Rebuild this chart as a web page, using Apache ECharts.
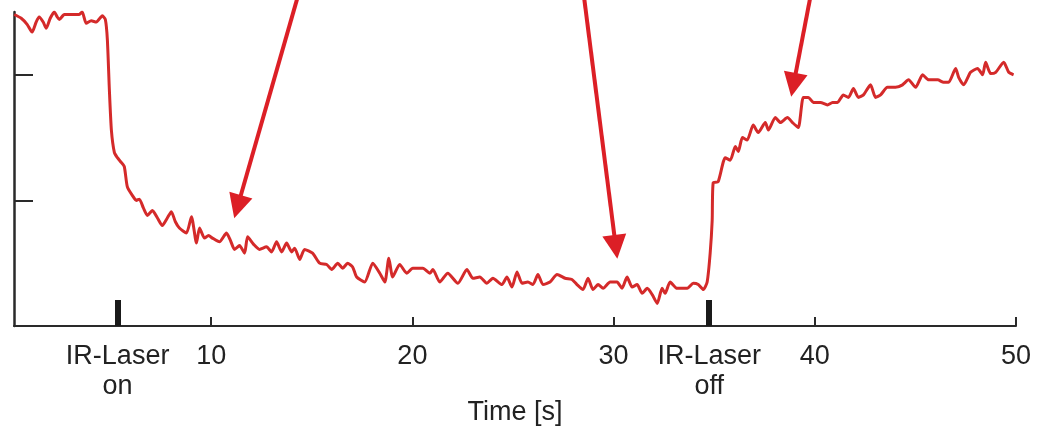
<!DOCTYPE html>
<html>
<head>
<meta charset="utf-8">
<script src="https://cdn.jsdelivr.net/npm/echarts@6/dist/echarts.min.js"></script>
<style>
html,body{margin:0;padding:0;background:#fff;}
#chart{width:1038px;height:433px;}
</style>
</head>
<body>
<div id="chart"></div>
<script>
// Signal trace: [time (s), relative signal]
const trace = [
[0.21,2.48],[0.56,2.45],[0.86,2.40],[1.10,2.34],[1.30,2.42],[1.45,2.46],[1.65,2.42],[1.80,2.37],[2.00,2.45],[2.20,2.50],
[2.35,2.46],[2.45,2.44],[2.70,2.48],[3.05,2.48],[3.44,2.48],[3.59,2.50],[3.79,2.41],[4.04,2.43],[4.29,2.42],[4.59,2.47],
[4.74,2.44],[4.84,2.28],[4.94,1.88],[5.04,1.56],[5.19,1.38],[5.34,1.34],[5.49,1.31],[5.68,1.27],[5.83,1.11],[6.08,1.04],
[6.28,1.00],[6.43,1.01],[6.63,0.94],[6.83,0.88],[7.08,0.92],[7.33,0.86],[7.57,0.80],[7.82,0.86],[8.02,0.91],[8.22,0.83],
[8.42,0.78],[8.77,0.74],[9.02,0.87],[9.27,0.66],[9.42,0.78],[9.67,0.70],[9.87,0.72],[10.06,0.70],[10.41,0.67],[10.76,0.74],
[10.96,0.68],[11.16,0.61],[11.41,0.64],[11.66,0.58],[11.81,0.71],[12.11,0.65],[12.40,0.61],[12.75,0.63],[13.00,0.59],[13.25,0.67],
[13.50,0.59],[13.75,0.66],[14.00,0.59],[14.15,0.62],[14.40,0.53],[14.64,0.61],[15.04,0.58],[15.39,0.50],[15.74,0.49],[15.99,0.45],
[16.29,0.50],[16.54,0.46],[16.78,0.50],[17.03,0.47],[17.23,0.39],[17.63,0.35],[18.03,0.50],[18.38,0.42],[18.63,0.35],[18.83,0.54],
[19.02,0.39],[19.37,0.49],[19.72,0.42],[20.02,0.46],[20.52,0.46],[20.87,0.42],[21.02,0.45],[21.36,0.35],[21.76,0.42],[22.26,0.34],
[22.71,0.45],[23.01,0.38],[23.35,0.39],[23.70,0.34],[24.00,0.38],[24.45,0.33],[24.70,0.39],[24.95,0.31],[25.20,0.43],[25.45,0.34],
[25.74,0.35],[25.99,0.33],[26.24,0.41],[26.49,0.33],[26.84,0.35],[27.19,0.41],[27.59,0.38],[27.93,0.37],[28.18,0.33],[28.48,0.29],
[28.73,0.38],[28.98,0.29],[29.23,0.33],[29.48,0.30],[29.83,0.35],[30.17,0.35],[30.42,0.30],[30.67,0.39],[30.92,0.31],[31.17,0.33],
[31.42,0.26],[31.67,0.30],[31.92,0.25],[32.17,0.18],[32.41,0.30],[32.56,0.26],[32.81,0.35],[33.16,0.30],[33.66,0.30],[33.96,0.34],
[34.21,0.33],[34.46,0.29],[34.65,0.35],[34.80,0.58],[34.90,0.84],[34.95,1.14],[35.20,1.15],[35.55,1.34],[35.80,1.32],[36.05,1.43],
[36.20,1.39],[36.40,1.50],[36.64,1.48],[36.94,1.60],[37.19,1.54],[37.54,1.62],[37.69,1.56],[38.04,1.66],[38.29,1.62],[38.64,1.66],
[38.89,1.62],[39.18,1.58],[39.43,1.82],[39.68,1.82],[39.93,1.78],[40.28,1.78],[40.63,1.76],[40.88,1.78],[41.13,1.78],[41.42,1.84],
[41.67,1.82],[41.92,1.89],[42.17,1.82],[42.42,1.84],[42.77,1.92],[43.02,1.82],[43.27,1.84],[43.61,1.90],[44.01,1.90],[44.36,1.92],
[44.66,1.96],[45.01,1.90],[45.36,2.00],[45.66,1.96],[46.11,1.96],[46.40,1.94],[46.65,1.94],[47.00,2.05],[47.15,1.98],[47.40,1.92],
[47.74,2.02],[48.09,2.05],[48.34,2.00],[48.49,2.10],[48.74,2.01],[48.99,2.02],[49.39,2.10],[49.64,2.02],[49.88,2.00]
];

const timeTicks = [10, 20, 30, 40, 50];
const laserTimes = [5.35, 34.75];
const laserLabels = ['IR-Laser\non', 'IR-Laser\noff'];
const yTicks = [1, 2];
// Annotation arrows: start (above plot) and arrow-head centre, in data units
const arrowFrom = [[14.30, 2.62], [28.53, 2.62], [39.78, 2.62]];
const arrowTo = [[11.31, 0.95], [30.11, 0.63], [38.94, 1.92]];

const FONT = 'Liberation Sans';
const chart = echarts.init(document.getElementById('chart'), null, {renderer: 'canvas'});
const labelStyle = {fontFamily: FONT, fontSize: 27, color: '#222', lineHeight: 30, margin: 16};

chart.setOption({
  animation: false,
  backgroundColor: '#fff',
  grid: {left: 14, right: 22, top: 12, bottom: 107, containLabel: false},
  xAxis: [
    {
      type: 'value', min: 0.2, max: 50,
      name: 'Time [s]', nameLocation: 'middle', nameGap: 73,
      nameTextStyle: {fontFamily: FONT, fontSize: 27, color: '#222', lineHeight: 27},
      axisLine: {show: true, onZero: false, lineStyle: {color: '#2a2a2a', width: 2}},
      axisTick: {show: true, inside: true, length: 9, customValues: timeTicks, lineStyle: {color: '#2a2a2a', width: 2}},
      axisLabel: Object.assign({customValues: timeTicks, formatter: v => String(Math.round(v))}, labelStyle),
      splitLine: {show: false}
    },
    {
      type: 'value', min: 0.2, max: 50, position: 'bottom',
      axisLine: {show: false},
      axisTick: {show: true, inside: true, length: 26, customValues: laserTimes, lineStyle: {color: '#1a1a1a', width: 6}},
      axisLabel: Object.assign({
        customValues: laserTimes,
        formatter: v => {
          const i = laserTimes.findIndex(t => Math.abs(t - v) < 1e-6);
          return i >= 0 ? laserLabels[i] : '';
        }
      }, labelStyle),
      splitLine: {show: false}
    }
  ],
  yAxis: {
    type: 'value', min: 0, max: 2.5,
    axisLine: {show: true, lineStyle: {color: '#2a2a2a', width: 2.5}},
    axisTick: {show: true, inside: true, length: 19, customValues: yTicks, lineStyle: {color: '#2a2a2a', width: 2}},
    axisLabel: {show: false},
    splitLine: {show: false}
  },
  series: [
    {
      type: 'line',
      xAxisIndex: 0,
      data: trace,
      showSymbol: false,
      smooth: 0.2,
      lineStyle: {color: '#d42a2a', width: 3},
      z: 3
    },
    {
      type: 'lines',
      coordinateSystem: 'cartesian2d',
      xAxisIndex: 0,
      clip: false,
      symbol: ['none', 'triangle'],
      symbolSize: [26, 24],
      lineStyle: {color: '#dc1f26', width: 4, opacity: 1, curveness: 0},
      data: arrowFrom.map((s, i) => ({coords: [s, arrowTo[i]]})),
      z: 4
    }
  ]
});
</script>
</body>
</html>
